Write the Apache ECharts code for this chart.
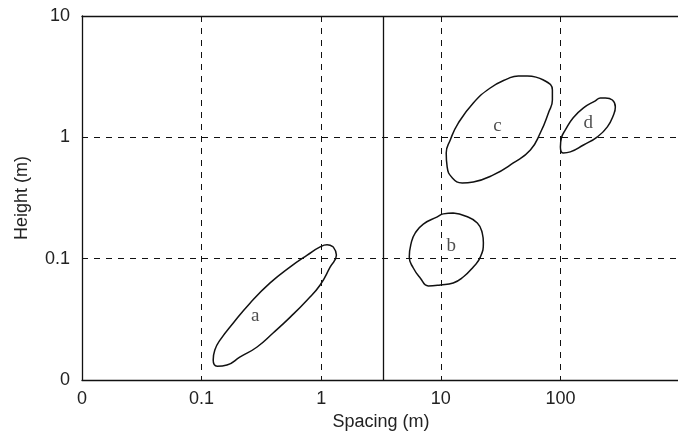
<!DOCTYPE html>
<html>
<head>
<meta charset="utf-8">
<script src="https://cdn.jsdelivr.net/npm/echarts@6/dist/echarts.min.js"></script>
<style>
html, body { margin: 0; padding: 0; background: #fff; }
#chart { width: 678px; height: 443px; }
</style>
</head>
<body>
<div id="chart"></div>
<script>
// outlines, [spacing m, height m]
var regionA = [
    [1.26, 0.125], [1.34, 0.107], [1.19, 0.0855], [0.98, 0.0607], [0.764, 0.0457],
    [0.551, 0.033], [0.396, 0.0244], [0.291, 0.0187], [0.21, 0.0155], [0.163, 0.0133],
    [0.135, 0.013], [0.125, 0.0146], [0.129, 0.0177], [0.143, 0.0214], [0.184, 0.0295],
    [0.255, 0.0432], [0.374, 0.0631], [0.551, 0.0855], [0.764, 0.107], [0.98, 0.125],
    [1.12, 0.13], [1.26, 0.125]
];
var regionB = [
    [12.7, 0.238], [16.0, 0.225], [20.2, 0.197], [22.2, 0.163], [22.7, 0.135],
    [21.4, 0.103], [18.7, 0.0855], [15.4, 0.0706], [12.7, 0.0631], [9.9, 0.0607],
    [7.86, 0.0596], [6.73, 0.0693], [5.89, 0.0838], [5.45, 0.103], [5.66, 0.135],
    [6.12, 0.163], [7.14, 0.193], [9.35, 0.221], [10.5, 0.234], [12.7, 0.238]
];
var regionC = [
    [53, 3.21], [72.1, 2.97], [85.7, 2.46], [85.7, 2.03], [79.4, 1.59],
    [68.0, 1.09], [56.1, 0.787], [40.4, 0.615], [27.5, 0.49], [18.7, 0.429],
    [15.1, 0.421], [12.5, 0.463], [11.3, 0.57], [11.1, 0.743], [12.0, 0.952],
    [14.0, 1.31], [18.7, 1.92], [25.9, 2.55], [36.0, 3.03], [44.5, 3.21], [53, 3.21]
];
var regionD = [
    [238, 2.11], [272, 2.03], [288, 1.78], [278, 1.53], [247, 1.22],
    [204, 1.01], [156, 0.865], [121, 0.759], [106, 0.743], [100, 0.834],
    [102, 0.989], [110, 1.15], [128, 1.45], [156, 1.75], [196, 2.0],
    [216, 2.11], [238, 2.11]
];
var regionNames = ['a', 'b', 'c', 'd'];
var labelPos = [[0.281, 0.0337], [12.2, 0.127], [29.7, 1.24], [171, 1.31]];
var dividerX = 3.3;

var font = 'Liberation Sans, Arial, sans-serif';
var chart = echarts.init(document.getElementById('chart'));

function outline(data) {
    return {
        type: 'line',
        data: data,
        smooth: 0.5,
        showSymbol: false,
        lineStyle: { color: '#111', width: 1.5 },
        silent: true,
        z: 3
    };
}

var gridLine = { show: true, lineStyle: { color: '#111', type: [6, 6], width: 1 } };

var option = {
    animation: false,
    backgroundColor: '#fff',
    grid: { left: 82, top: 16, width: 598, height: 364, outerBoundsMode: 'none', containLabel: false },
    xAxis: [{
        type: 'log',
        logBase: 10,
        min: 0.01,
        max: 1000,
        name: 'Spacing (m)',
        nameLocation: 'middle',
        nameGap: 33,
        nameTextStyle: { fontFamily: font, fontSize: 18, color: '#222' },
        axisLine: { lineStyle: { color: '#111', width: 1.3 } },
        axisTick: { show: false },
        axisLabel: {
            fontFamily: font, fontSize: 18, color: '#222', margin: 10,
            formatter: function (v) {
                if (v < 0.05) return '0';
                if (v > 500) return '';
                return String(v);
            }
        },
        splitLine: gridLine
    }, {
        type: 'log',
        logBase: 10,
        min: 0.01,
        max: 1000,
        position: 'top',
        axisLine: { show: true, onZero: false, lineStyle: { color: '#111', width: 1.3 } },
        axisTick: { show: false },
        axisLabel: { show: false },
        splitLine: { show: false }
    }],
    yAxis: {
        type: 'log',
        logBase: 10,
        min: 0.01,
        max: 10,
        name: 'Height (m)',
        nameLocation: 'middle',
        nameGap: 51,
        nameTextStyle: { fontFamily: font, fontSize: 18, color: '#222' },
        axisLine: { show: true, lineStyle: { color: '#111', width: 1.3 } },
        axisTick: { show: false },
        axisLabel: {
            fontFamily: font, fontSize: 18, color: '#222', margin: 12,
            formatter: function (v) { return v < 0.05 ? '0' : String(v); }
        },
        splitLine: gridLine
    },
    series: [
        outline(regionA),
        outline(regionB),
        outline(regionC),
        outline(regionD),
        {
            type: 'scatter',
            symbolSize: 0,
            silent: true,
            data: labelPos.map(function (p, i) { return { value: p, name: regionNames[i] }; }),
            label: {
                show: true,
                position: 'inside',
                formatter: '{b}',
                fontFamily: 'Liberation Serif, Times New Roman, serif',
                fontSize: 19,
                color: '#222'
            },
            markLine: {
                silent: true,
                symbol: 'none',
                label: { show: false },
                lineStyle: { color: '#111', type: 'solid', width: 1.3 },
                data: [{ xAxis: dividerX }]
            },
            z: 4
        }
    ]
};
chart.setOption(option);
</script>
</body>
</html>
